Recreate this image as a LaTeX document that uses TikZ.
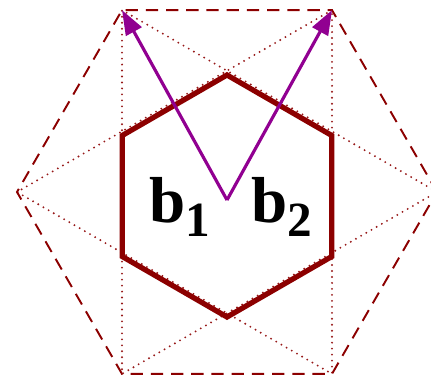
\documentclass[tikz,border=0pt]{standalone}
\usepackage{fontspec}
\setmainfont{Liberation Serif}
\usetikzlibrary{arrows.meta,positioning,calc}
\definecolor{zonered}{RGB}{140,0,0}
\definecolor{vecpurple}{RGB}{145,0,145}
\tikzset{
	zone/.style = {
		draw=zonered, 
		line width=3pt, 
		line join=miter
	},
	outerzone/.style = {
		draw=zonered, 
		line width=1.1pt, 
		dash pattern=on 7pt off 4.5pt
	},
	bisect/.style = {
		draw=zonered!90, 
		line width=1.2pt, 
		line cap=round, 
		dash pattern=on 0pt off 3.4pt
	},
	vec/.style = {
		-{Triangle[length=14pt,width=10pt]}, 
		draw=vecpurple, 
		fill=vecpurple, 
		line width=1.8pt
	},
	veclabel/.style = {
		font=\fontsize{37}{37}\selectfont\bfseries, 
		inner sep=0pt, 
		anchor=base
	}
}
\newcommand{\subidx}[1]{\raisebox{-8pt}{\fontsize{28}{28}\selectfont #1}}

\begin{document}
\begin{tikzpicture}[x=0.02cm, y=0.02cm]
		
		\useasboundingbox (0,0) rectangle (431,382);
		\clip (0,0) rectangle (431,382);
		
		\coordinate (c) at (227,190);
		\coordinate (k) at (227,186);
		
		% --- vertices of the two hexagons ---
		\foreach \n in {0,...,5} {
			\coordinate (o\n) at ($(c)+(60*\n:210)$);
			\coordinate (i\n) at ($(k)+(30+60*\n:121)$);
		}
		
		% dotted star (two triangles)
		\draw[bisect] (o0) -- (o2) -- (o4) -- cycle;
		\draw[bisect] (o1) -- (o3) -- (o5) -- cycle;
		
		% outer dashed hexagon
		\draw[outerzone] (o0) -- (o1) -- (o2) -- (o3) -- (o4) -- (o5) -- cycle;
		
		% first zone
		\draw[zone] (i0) -- (i1) -- (i2) -- (i3) -- (i4) -- (i5) -- cycle;
		
		% --- reciprocal vectors ---
		\coordinate (v) at ($(k)+(0,-4)$);
		\draw[vec] (v) -- (o2);
		\draw[vec] (v) -- (o1);
		
		\node[veclabel] (b1) at ($(k)+(-47,-26)$) {b\subidx{1}};
		\node[veclabel] (b2) at ($(k)+(55,-26)$) {b\subidx{2}};
		
	\end{tikzpicture}
\end{document}
